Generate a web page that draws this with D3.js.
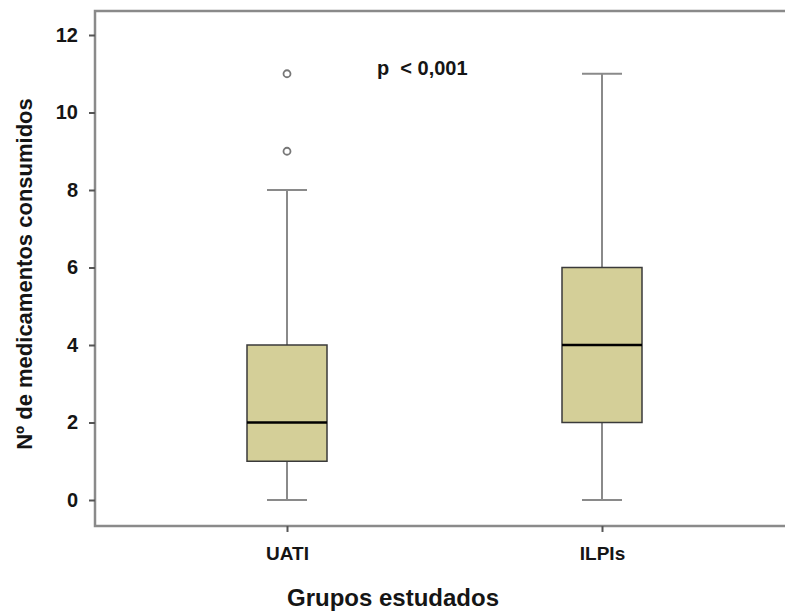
<!DOCTYPE html>
<html>
<head>
<meta charset="utf-8">
<script src="https://cdn.jsdelivr.net/npm/d3@7"></script>
<style>
  body { margin: 0; background: #fff; }
  text { font-family: "Liberation Sans", Arial, sans-serif; font-weight: bold; fill: #151515; }
</style>
</head>
<body>
<svg id="chart" width="785" height="613"></svg>
<script>
// groups and their box stats
const groups = ["UATI", "ILPIs"];
const lowerWhisker = [0, 0];
const q1 = [1, 2];
const medians = [2, 4];
const q3 = [4, 6];
const upperWhisker = [8, 11];
const outliers = [[9, 11], []];
const yTicks = [0, 2, 4, 6, 8, 10, 12];

const svg = d3.select("#chart");

const y = d3.scaleLinear().domain([0, 12]).range([500, 35]);
const x = d3.scalePoint().domain(groups).range([287, 602]);

const boxW = 80;
const capW = 40;

// frame (left, top, bottom; right edge runs off the picture)
const frameTop = y(12.62), frameBottom = y(-0.67);
svg.append("path")
    .attr("d", `M790,${frameTop} H95 V${frameBottom} H790`)
    .attr("fill", "none")
    .attr("stroke", "#8a8a8a")
    .attr("stroke-width", 2.5);

// y axis
const yAxis = svg.append("g")
    .attr("transform", "translate(95,0)")
    .call(d3.axisLeft(y).tickValues(yTicks).tickSize(6).tickPadding(11));
yAxis.select(".domain").remove();
yAxis.selectAll(".tick line").attr("stroke", "#555").attr("stroke-width", 2);
yAxis.selectAll(".tick text")
    .style("font-size", "20px")
    .style("font-family", "'Liberation Sans', Arial, sans-serif")
    .style("font-weight", "bold")
    .attr("fill", "#151515");

// x axis
const xAxis = svg.append("g")
    .attr("transform", `translate(0,${frameBottom})`)
    .call(d3.axisBottom(x).tickSize(6).tickPadding(15));
xAxis.select(".domain").remove();
xAxis.selectAll(".tick line").attr("stroke", "#555").attr("stroke-width", 2);
xAxis.selectAll(".tick text")
    .style("font-size", "19px")
    .style("font-family", "'Liberation Sans', Arial, sans-serif")
    .style("font-weight", "bold")
    .attr("fill", "#151515");

// boxes
groups.forEach((g, i) => {
  const cx = x(g);
  const grp = svg.append("g");

  // whiskers
  grp.append("line")
      .attr("x1", cx).attr("x2", cx)
      .attr("y1", y(upperWhisker[i])).attr("y2", y(q3[i]))
      .attr("stroke", "#8a8a8a").attr("stroke-width", 2);
  grp.append("line")
      .attr("x1", cx).attr("x2", cx)
      .attr("y1", y(q1[i])).attr("y2", y(lowerWhisker[i]))
      .attr("stroke", "#8a8a8a").attr("stroke-width", 2);
  [upperWhisker[i], lowerWhisker[i]].forEach(v => {
    grp.append("line")
        .attr("x1", cx - capW / 2).attr("x2", cx + capW / 2)
        .attr("y1", y(v)).attr("y2", y(v))
        .attr("stroke", "#8a8a8a").attr("stroke-width", 2);
  });

  grp.append("rect")
      .attr("x", cx - boxW / 2)
      .attr("y", y(q3[i]))
      .attr("width", boxW)
      .attr("height", y(q1[i]) - y(q3[i]))
      .attr("fill", "#d4cf98")
      .attr("stroke", "#3a3a3a")
      .attr("stroke-width", 1.5);

  grp.append("line")
      .attr("x1", cx - boxW / 2).attr("x2", cx + boxW / 2)
      .attr("y1", y(medians[i])).attr("y2", y(medians[i]))
      .attr("stroke", "#000").attr("stroke-width", 2.5);

  grp.selectAll("circle")
      .data(outliers[i])
      .join("circle")
      .attr("cx", cx)
      .attr("cy", d => y(d))
      .attr("r", 3.5)
      .attr("fill", "none")
      .attr("stroke", "#777")
      .attr("stroke-width", 1.8);
});

// annotation
svg.append("text")
    .attr("x", 377)
    .attr("y", 75)
    .style("font-size", "20px")
    .attr("xml:space", "preserve")
    .text("p  < 0,001");

// axis titles
svg.append("text")
    .attr("transform", "translate(32,274) rotate(-90)")
    .attr("text-anchor", "middle")
    .style("font-size", "22px")
    .text("Nº de medicamentos consumidos");

svg.append("text")
    .attr("x", 393)
    .attr("y", 606)
    .attr("text-anchor", "middle")
    .style("font-size", "24px")
    .text("Grupos estudados");
</script>
</body>
</html>
